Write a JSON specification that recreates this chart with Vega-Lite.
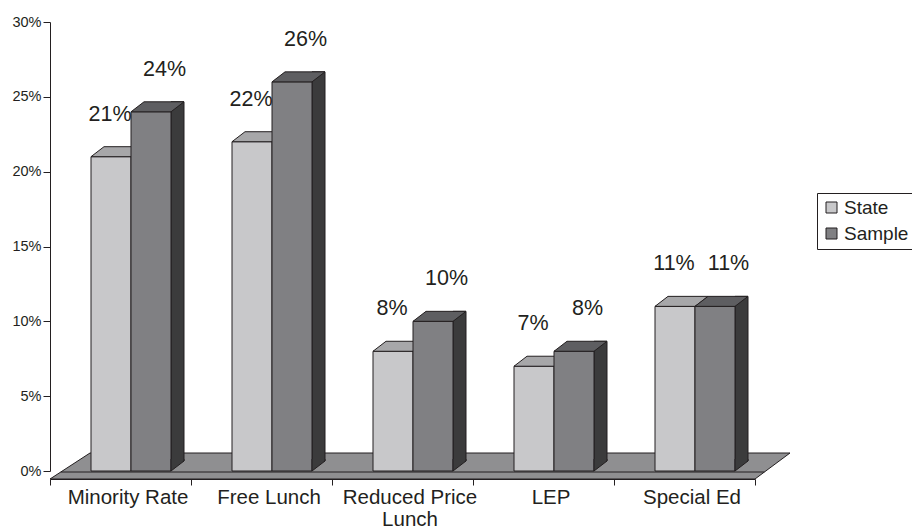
{
  "$schema": "https://vega.github.io/schema/vega-lite/v6.json",
  "width": 705,
  "height": 449,
  "autosize": "none",
  "padding": {"left": 50, "top": 22, "right": 157, "bottom": 55},
  "background": "white",
  "config": {
    "view": {"stroke": null},
    "font": "Liberation Sans",
    "axisY": {"labelFontSize": 14.5, "labelColor": "#231f20", "tickColor": "#231f20", "domainColor": "#231f20", "tickSize": 7, "labelPadding": 2, "grid": false},
    "axisX": {"labelFontSize": 20.5, "labelColor": "#231f20", "tickColor": "#231f20", "domainColor": "#231f20", "tickSize": 6, "labelPadding": 2, "grid": false, "labelAngle": 0}
  },
  "data": {
    "values": [
      {"cat": "Minority Rate", "series": "State", "value": 0.21},
      {"cat": "Minority Rate", "series": "Sample", "value": 0.24},
      {"cat": "Free Lunch", "series": "State", "value": 0.22},
      {"cat": "Free Lunch", "series": "Sample", "value": 0.26},
      {"cat": "Reduced Price Lunch", "series": "State", "value": 0.08},
      {"cat": "Reduced Price Lunch", "series": "Sample", "value": 0.10},
      {"cat": "LEP", "series": "State", "value": 0.07},
      {"cat": "LEP", "series": "Sample", "value": 0.08},
      {"cat": "Special Ed", "series": "State", "value": 0.11},
      {"cat": "Special Ed", "series": "Sample", "value": 0.11}
    ]
  },
  "encoding": {
    "x": {
      "field": "cat", "type": "nominal", "title": null,
      "sort": ["Minority Rate", "Free Lunch", "Reduced Price Lunch", "LEP", "Special Ed"],
      "scale": {"domain": ["Minority Rate", "Free Lunch", "Reduced Price Lunch", "LEP", "Special Ed"], "paddingInner": 0, "paddingOuter": 0},
      "axis": {"tickBand": "extent", "labelOffset": 7, "offset": 8, "labelOverlap": false, "labelBound": false, "labelLineHeight": 22,
        "labelExpr": "datum.value == 'Reduced Price Lunch' ? ['Reduced Price', 'Lunch'] : datum.value"}
    }
  },
  "layer": [
    {
      "transform": [{"filter": "datum.cat == 'Minority Rate' && datum.series == 'State'"}],
      "mark": {"type": "point", "shape": "M-70.5,8 L634.5,8 L669.5,-18 L-30.5,-18 Z M-59.7,1 L643.9,1", "size": 4, "filled": true, "fill": "#8f8f91", "stroke": "#231f20", "strokeWidth": 1, "opacity": 1},
      "encoding": {
        "y": {"datum": 0, "type": "quantitative", "title": null, "scale": {"domain": [0, 0.3], "nice": false},
          "axis": {"values": [0, 0.05, 0.1, 0.15, 0.2, 0.25, 0.3], "format": ".0%"}}
      }
    },
    {
      "transform": [{"filter": "datum.series == 'State'"}],
      "mark": {"type": "bar", "width": 40, "xOffset": -9.5, "stroke": "#231f20", "strokeWidth": 1},
      "encoding": {
        "y": {"field": "value", "type": "quantitative", "title": null},
        "y2": {"datum": 0},
        "color": {"field": "series", "type": "nominal", "title": null,
          "scale": {"domain": ["State", "Sample"], "range": ["#c8c8ca", "#808083"]},
          "legend": {"orient": "none", "legendX": 767, "legendY": 171, "padding": 5, "strokeColor": "#231f20", "fillColor": "white",
            "symbolType": "square", "symbolSize": 121, "symbolStrokeColor": "#231f20", "symbolStrokeWidth": 1,
            "labelFontSize": 19, "labelFont": "Liberation Sans", "labelColor": "#231f20", "rowPadding": 6, "labelOffset": 3,
            "encode": {"symbols": {"update": {
              "fill": {"signal": "datum.value == 'Sample' ? '#555557' : '#c8c8ca'"},
              "stroke": {"value": "#231f20"},
              "strokeWidth": {"value": 1},
              "opacity": {"value": 1}}}}}
        }
      }
    },
    {
      "transform": [{"filter": "datum.series == 'State'"}],
      "mark": {"type": "point", "shape": "M-20,0 L20,0 L33,-10 L-7,-10 Z", "size": 4, "filled": true, "fill": "#a7a7a9", "stroke": "#231f20", "strokeWidth": 1, "opacity": 1, "xOffset": -9.5},
      "encoding": {"y": {"field": "value", "type": "quantitative", "title": null}}
    },
    {
      "transform": [{"filter": "datum.series == 'Sample'"}],
      "mark": {"type": "bar", "width": 13, "xOffset": 57, "yOffset": -10, "y2Offset": -10, "fill": "#3b3b3c", "stroke": "#231f20", "strokeWidth": 1},
      "encoding": {
        "y": {"field": "value", "type": "quantitative", "title": null},
        "y2": {"datum": 0}
      }
    },
    {
      "transform": [{"filter": "datum.series == 'Sample'"}],
      "mark": {"type": "bar", "width": 40, "xOffset": 30.5, "stroke": "#231f20", "strokeWidth": 1},
      "encoding": {
        "y": {"field": "value", "type": "quantitative", "title": null},
        "y2": {"datum": 0},
        "color": {"field": "series", "type": "nominal", "title": null}
      }
    },
    {
      "transform": [{"filter": "datum.series == 'Sample'"}],
      "mark": {"type": "point", "shape": "M-20,0 L20,0 L33,-10 L-7,-10 Z", "size": 4, "filled": true, "fill": "#5e5e61", "stroke": "#231f20", "strokeWidth": 1, "opacity": 1, "xOffset": 30.5},
      "encoding": {"y": {"field": "value", "type": "quantitative", "title": null}}
    },
    {
      "transform": [{"filter": "datum.series == 'Sample'"}],
      "mark": {"type": "point", "shape": "M20,-12 L20,0 L33,-10 L33,-12", "size": 4, "filled": true, "fill": "#3b3b3c", "stroke": "#231f20", "strokeWidth": 1, "opacity": 1, "xOffset": 30.5},
      "encoding": {"y": {"datum": 0, "type": "quantitative", "title": null}}
    },
    {
      "transform": [{"filter": "datum.series == 'State'"}],
      "mark": {"type": "text", "dx": -10.5, "dy": -42, "baseline": "middle", "align": "center", "fontSize": 21.5, "font": "Liberation Sans", "fill": "#231f20"},
      "encoding": {
        "y": {"field": "value", "type": "quantitative", "title": null},
        "text": {"field": "value", "type": "quantitative", "format": ".0%"}
      }
    },
    {
      "transform": [{"filter": "datum.series == 'Sample'"}],
      "mark": {"type": "text", "dx": 44, "dy": -42, "baseline": "middle", "align": "center", "fontSize": 21.5, "font": "Liberation Sans", "fill": "#231f20"},
      "encoding": {
        "y": {"field": "value", "type": "quantitative", "title": null},
        "text": {"field": "value", "type": "quantitative", "format": ".0%"}
      }
    }
  ]
}
